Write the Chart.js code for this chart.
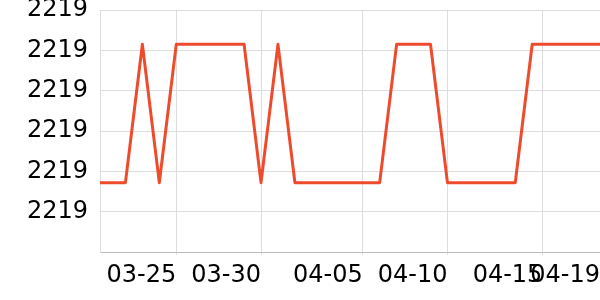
<!DOCTYPE html>
<html>
<head>
<meta charset="utf-8">
<script src="https://cdn.jsdelivr.net/npm/chart.js@4/dist/chart.umd.min.js"></script>
<style>
  html, body { margin: 0; padding: 0; background: #fff; }
  #wrap { width: 600px; height: 300px; }
</style>
</head>
<body>
<div id="wrap"><canvas id="chart"></canvas></div>
<script>
// data
const dates = [
    '03-20', '03-21', '03-22', '03-23', '03-24', '03-25', '03-26', '03-27',
    '03-28', '03-29', '03-30', '03-31', '04-01', '04-02', '04-03', '04-04',
    '04-05', '04-06', '04-07', '04-08', '04-09', '04-10', '04-11', '04-12',
    '04-13', '04-14', '04-15', '04-16', '04-17', '04-18', '04-19'
];
const prices = [
    2219.1172, 2219.1172, 2219.1172, 2219.1515, 2219.1172, 2219.1515, 2219.1515, 2219.1515,
    2219.1515, 2219.1515, 2219.1172, 2219.1515, 2219.1172, 2219.1172, 2219.1172, 2219.1172,
    2219.1172, 2219.1172, 2219.1515, 2219.1515, 2219.1515, 2219.1172, 2219.1172, 2219.1172,
    2219.1172, 2219.1172, 2219.1515, 2219.1515, 2219.1515, 2219.1515, 2219.1515
];
const tickTimes = ['03-25', '03-30', '04-05', '04-10', '04-15 14:24', '04-19'];
const xRange = ['03-20 12:00', '04-19'];
const yMin = 2219.10;
const yMax = 2219.16;
const yStep = 0.01;

const base = Date.UTC(2024, 2, 22);
function toDay(s) {
    const [md, hm] = s.split(' ');
    const [m, d] = md.split('-').map(Number);
    let t = (Date.UTC(2024, m - 1, d) - base) / 86400000;
    if (hm) {
        const [h, mi] = hm.split(':').map(Number);
        t += (h + mi / 60) / 24;
    }
    return t;
}

const points = dates.map((d, i) => ({ x: toDay(d), y: prices[i] }));
const tickLabels = {};
tickTimes.forEach(t => { tickLabels[toDay(t)] = t.slice(0, 5); });

new Chart(document.getElementById('chart'), {
    type: 'line',
    data: {
        datasets: [{
            data: points,
            borderColor: '#ee4a2c',
            borderWidth: 3,
            borderJoinStyle: 'round',
            pointRadius: 0,
            tension: 0,
            fill: false
        }]
    },
    options: {
        responsive: true,
        maintainAspectRatio: false,
        animation: false,
        layout: { padding: 0 },
        plugins: { legend: { display: false }, tooltip: { enabled: false } },
        scales: {
            x: {
                type: 'linear',
                min: toDay(xRange[0]),
                max: toDay(xRange[1]),
                afterBuildTicks: s => { s.ticks = tickTimes.map(t => ({ value: toDay(t) })); },
                afterFit: s => { s.height = 48; },
                grid: { color: '#dddddd', tickLength: 3 },
                border: { color: '#bbbbbb' },
                ticks: {
                    font: { family: 'DejaVu Sans', size: 24, lineHeight: 1.72 },
                    color: '#000',
                    align: 'end',
                    padding: 0,
                    maxRotation: 0,
                    autoSkip: false,
                    callback: v => tickLabels[v] || ''
                }
            },
            y: {
                min: yMin,
                max: yMax,
                afterFit: s => { s.width = 100; },
                grid: { color: '#dddddd', tickLength: 12, tickColor: 'rgba(0,0,0,0)' },
                border: { color: '#dddddd' },
                ticks: {
                    stepSize: yStep,
                    font: { family: 'DejaVu Sans', size: 24, lineHeight: 0.84 },
                    color: '#000',
                    padding: 0,
                    callback: v => (Math.abs(v - yMin) < 1e-6 ? '' : v.toFixed(0))
                }
            }
        }
    }
});
</script>
</body>
</html>
